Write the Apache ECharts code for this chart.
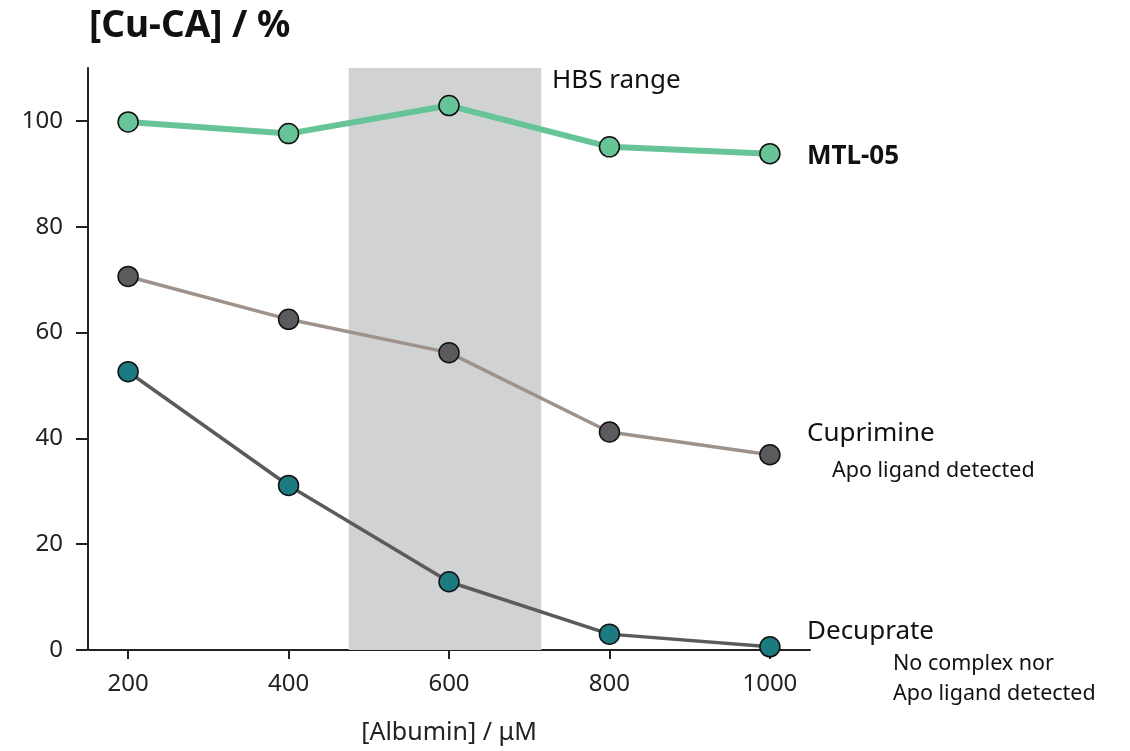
<!DOCTYPE html>
<html><head><meta charset="utf-8">
<script src="https://cdn.jsdelivr.net/npm/echarts@6/dist/echarts.min.js"></script>
<style>html,body{margin:0;padding:0;background:#fff}#c{width:1130px;height:751px}</style>
</head><body><div id="c"></div>
<script>
const albumin = [200, 400, 600, 800, 1000];
const mtl05 = [99.8, 97.6, 102.9, 95.1, 93.8];
const cuprimine = [70.6, 62.5, 56.2, 41.2, 36.9];
const decuprate = [52.6, 31.1, 12.9, 3.0, 0.6];
const xTicks = [200, 400, 600, 800, 1000];
const yTicks = [0, 20, 40, 60, 80, 100];
const hbsRange = [475, 715];

const FONT = '"Noto Sans", sans-serif';
const chart = echarts.init(document.getElementById('c'));
const pair = a => albumin.map((x, i) => [x, a[i]]);
const marker = (fill) => ({ color: fill, borderColor: '#111', borderWidth: 1.5 });
const txt = (x, y, text, size, weight) => ({
  type: 'text', x: x, y: y,
  style: { text: text, font: (weight || 'normal') + ' ' + size + 'px ' + FONT, fill: '#111', verticalAlign: 'middle' }
});

chart.setOption({
  animation: false,
  textStyle: { fontFamily: FONT },
  title: { text: '[Cu-CA] / %', left: 84, top: 3,
    textStyle: { fontFamily: FONT, fontSize: 37, fontWeight: 'bold', color: '#111' } },
  grid: { left: 88, right: 320, top: 68, bottom: 101 },
  xAxis: {
    type: 'value', min: 150, max: 1050,
    name: '[Albumin] / μM', nameLocation: 'middle', nameGap: 70,
    nameTextStyle: { fontSize: 25, color: '#222', fontFamily: FONT },
    axisLine: { lineStyle: { color: '#222', width: 2 } },
    axisTick: { customValues: xTicks, length: 9, lineStyle: { color: '#222', width: 2 } },
    axisLabel: { customValues: xTicks, fontSize: 24, color: '#222', margin: 22, formatter: v => String(v) },
    splitLine: { show: false }
  },
  yAxis: {
    type: 'value', min: 0, max: 110,
    axisLine: { show: true, lineStyle: { color: '#222', width: 2 } },
    axisTick: { show: true, customValues: yTicks, length: 12, lineStyle: { color: '#222', width: 2 } },
    axisLabel: { customValues: yTicks, fontSize: 24, color: '#222', margin: 25 },
    splitLine: { show: false }
  },
  series: [
    {
      name: 'HBS', type: 'line', data: [], silent: true,
      markArea: { silent: true, itemStyle: { color: '#d1d2d4' },
        data: [[{ xAxis: hbsRange[0] }, { xAxis: hbsRange[1] }]] }
    },
    {
      name: 'Decuprate', type: 'line', data: pair(decuprate),
      symbol: 'circle', symbolSize: 20,
      lineStyle: { color: '#5b5b5b', width: 3.5 }, itemStyle: marker('#1c7b80'), z: 3
    },
    {
      name: 'Cuprimine', type: 'line', data: pair(cuprimine),
      symbol: 'circle', symbolSize: 20,
      lineStyle: { color: '#9e928b', width: 3.5 }, itemStyle: marker('#5b5b5d'), z: 4
    },
    {
      name: 'MTL-05', type: 'line', data: pair(mtl05),
      symbol: 'circle', symbolSize: 20,
      lineStyle: { color: '#66c497', width: 6 }, itemStyle: marker('#66c497'), z: 5
    }
  ],
  graphic: [
    txt(552, 81, 'HBS range', 26),
    txt(807, 157, 'MTL-05', 26, 'bold'),
    txt(807, 434, 'Cuprimine', 26),
    txt(832, 471, 'Apo ligand detected', 21.5),
    txt(807, 632, 'Decuprate', 26),
    txt(893, 664, 'No complex nor', 21.5),
    txt(893, 694, 'Apo ligand detected', 21.5)
  ]
});
</script></body></html>
